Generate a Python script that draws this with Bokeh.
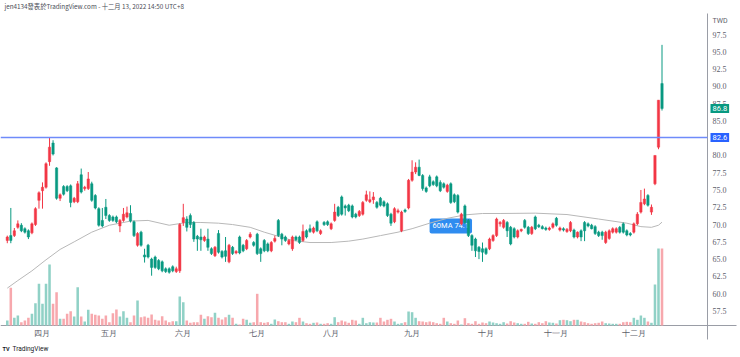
from bokeh.plotting import figure
from bokeh.models import Range1d, Label, LabelSet, ColumnDataSource
from bokeh.embed import file_html
from bokeh.resources import INLINE

# ---- data ----
month_ticks = [10, 29, 50, 71, 92, 115, 136, 156, 178]
month_labels = ["四月", "五月", "六月", "七月", "八月", "九月", "十月", "十一月", "十二月"]

price_ticks = [57.5, 60.0, 62.5, 65.0, 67.5, 70.0, 72.5, 75.0, 77.5, 80.0,
               85.0, 87.5, 90.0, 92.5, 95.0, 97.5]
price_tick_labels = ["57.5", "60.0", "62.5", "65.0", "67.5", "70.0", "72.5", "75.0", "77.5", "80.0",
                     "85.0", "87.5", "90.0", "92.5", "95.0", "97.5"]

opens = [67.7, 68.4, 68.4, 69.6, 69.9, 69.4, 69.1, 68.8, 70.0, 73.5,
         74.9, 75.4, 79.1, 81.8, 78.2, 73.8, 75.5, 75.5, 75.6, 73.3,
         73.3, 77.2, 75.2, 75.2, 75.9, 74.2, 72.3, 70.6, 72.5, 71.3,
         71.1, 71.1, 69.8, 70.6, 71.1, 71.6, 70.4, 67.0, 68.9, 65.6,
         67.0, 65.0, 65.3, 64.8, 64.6, 63.6, 63.6, 63.9, 63.2, 63.3,
         70.3, 70.8, 71.3, 70.3, 68.3, 68.2, 67.7, 67.9, 66.5, 65.5,
         68.7, 66.1, 66.2, 64.6, 66.7, 65.9, 68.2, 67.0, 66.5, 68.2,
         67.4, 68.6, 66.5, 67.7, 67.2, 66.2, 67.6, 70.6, 68.6, 68.2,
         67.2, 66.5, 68.2, 68.2, 67.7, 69.1, 69.4, 68.9, 70.4, 68.7,
         70.3, 70.4, 69.4, 70.6, 72.5, 74.0, 72.7, 72.8, 72.7, 71.5,
         71.3, 71.5, 73.5, 73.3, 73.6, 73.2, 73.8, 73.3, 73.0, 71.5,
         70.4, 71.8, 69.1, 72.1, 72.4, 76.4, 77.6, 78.3, 77.1, 75.3,
         76.9, 76.2, 76.9, 76.1, 75.9, 74.8, 75.9, 74.3, 74.2, 70.1,
         72.7, 70.6, 68.4, 67.9, 66.7, 66.5, 66.5, 66.5, 67.7, 68.4,
         70.1, 69.6, 70.3, 69.6, 69.4, 68.2, 69.1, 70.6, 69.6, 68.7,
         71.1, 69.9, 69.7, 69.5, 69.3, 69.6, 70.9, 69.2, 69.4, 69.0,
         69.1, 69.2, 68.2, 69.1, 70.3, 70.1, 69.9, 69.7, 68.9, 68.9,
         67.4, 68.0, 68.9, 68.9, 69.6, 70.1, 69.1, 68.7, 68.9, 70.1,
         71.8, 73.0, 74.2, 71.8, 75.9, 81.2, 90.4]

highs = [68.4, 72.4, 69.5, 70.6, 70.2, 69.6, 69.3, 70.3, 72.5, 74.8,
         76.1, 79.0, 82.6, 82.2, 78.3, 74.5, 75.7, 75.7, 75.8, 74.0,
         76.3, 78.1, 75.6, 77.6, 76.2, 74.4, 72.5, 72.4, 73.7, 71.5,
         71.3, 71.3, 70.8, 72.4, 72.6, 72.8, 70.6, 68.9, 69.1, 66.5,
         67.2, 65.2, 65.5, 65.0, 64.8, 63.8, 63.8, 64.1, 63.9, 70.2,
         73.0, 71.2, 71.6, 70.5, 68.5, 69.4, 68.4, 69.4, 66.7, 66.9,
         69.2, 66.3, 68.2, 67.2, 66.9, 66.3, 68.4, 67.2, 67.9, 68.9,
         67.6, 68.8, 66.7, 67.9, 67.4, 67.6, 68.4, 70.8, 68.8, 68.4,
         67.9, 68.4, 68.4, 68.4, 70.0, 69.3, 70.0, 69.7, 70.6, 69.3,
         70.5, 70.6, 70.3, 73.0, 72.7, 74.2, 72.9, 73.0, 72.9, 71.7,
         72.1, 73.4, 74.9, 74.8, 74.7, 73.4, 74.0, 73.5, 73.2, 71.7,
         72.5, 72.3, 72.0, 72.3, 76.6, 79.3, 79.0, 79.4, 77.3, 75.5,
         77.2, 76.4, 77.1, 76.4, 76.1, 75.9, 76.1, 74.5, 74.4, 71.7,
         72.9, 70.8, 68.6, 68.1, 66.9, 67.4, 66.7, 68.1, 68.6, 71.0,
         70.5, 70.8, 70.5, 69.8, 69.6, 69.3, 69.4, 70.8, 69.8, 69.8,
         71.3, 70.1, 69.9, 69.7, 69.7, 70.3, 71.1, 69.7, 69.6, 69.5,
         70.5, 69.4, 69.0, 69.3, 70.5, 70.3, 70.1, 69.9, 69.1, 69.1,
         69.1, 69.3, 69.6, 69.6, 69.8, 70.3, 69.3, 68.9, 70.3, 71.8,
         75.0, 75.2, 74.4, 72.9, 80.0, 88.0, 96.0]

lows = [67.3, 67.3, 68.2, 69.4, 68.9, 68.7, 67.9, 68.6, 69.8, 72.3,
        72.3, 75.2, 78.5, 80.0, 73.6, 73.4, 74.2, 74.7, 72.5, 73.1,
        73.1, 74.5, 74.9, 75.0, 73.3, 72.2, 69.7, 69.6, 70.8, 70.4,
        70.4, 70.2, 68.9, 70.4, 70.9, 70.3, 68.2, 66.8, 66.8, 64.5,
        65.1, 62.6, 63.6, 63.4, 63.1, 63.0, 62.9, 63.1, 63.0, 63.0,
        69.8, 69.0, 69.5, 67.5, 66.2, 66.2, 67.5, 66.2, 65.6, 65.3,
        65.8, 65.1, 64.6, 64.4, 65.6, 65.7, 65.7, 66.0, 66.3, 68.0,
        66.8, 65.6, 64.6, 66.0, 66.0, 66.0, 67.4, 68.2, 67.0, 67.5,
        67.0, 66.2, 67.6, 67.2, 67.5, 68.0, 68.8, 68.7, 68.9, 68.5,
        69.8, 69.8, 69.2, 70.4, 71.1, 71.3, 71.3, 71.8, 70.9, 70.9,
        71.1, 71.3, 73.3, 73.1, 73.0, 72.3, 72.6, 72.5, 71.1, 69.8,
        70.2, 71.6, 68.9, 71.7, 72.2, 76.2, 77.3, 77.0, 74.9, 74.6,
        75.4, 75.6, 75.4, 74.7, 75.2, 74.6, 73.0, 73.1, 71.6, 69.9,
        70.1, 68.2, 66.2, 65.3, 65.0, 64.6, 65.6, 66.3, 67.5, 68.2,
        69.7, 69.4, 68.2, 67.0, 68.0, 68.0, 68.9, 69.4, 68.5, 68.5,
        69.2, 69.5, 69.3, 69.1, 69.1, 69.4, 69.7, 69.0, 69.0, 68.8,
        68.9, 68.0, 68.0, 67.6, 67.6, 69.6, 69.3, 68.5, 68.2, 67.8,
        67.2, 67.8, 68.7, 68.7, 68.7, 68.7, 68.3, 68.3, 68.7, 69.9,
        71.6, 72.8, 72.6, 71.4, 75.7, 80.9, 86.5]

closes = [68.2, 67.7, 69.1, 70.1, 69.1, 68.9, 68.2, 70.1, 72.3, 74.6,
          75.4, 78.8, 81.2, 80.2, 73.8, 74.3, 74.4, 74.9, 73.2, 73.8,
          75.9, 74.7, 75.4, 76.6, 73.5, 72.4, 69.9, 69.8, 71.3, 70.6,
          70.6, 70.4, 70.6, 71.5, 71.7, 70.5, 68.4, 68.7, 67.0, 65.3,
          65.3, 63.8, 63.8, 63.6, 63.3, 63.2, 63.1, 63.3, 63.6, 70.0,
          71.0, 69.6, 70.0, 67.9, 67.9, 67.8, 68.2, 66.7, 65.8, 66.7,
          66.0, 65.3, 65.4, 67.0, 65.8, 66.1, 65.9, 66.2, 67.7, 68.6,
          67.0, 65.8, 65.8, 66.2, 66.2, 67.4, 68.0, 68.4, 67.9, 67.7,
          67.7, 68.2, 67.8, 67.4, 69.0, 68.2, 69.0, 69.5, 69.1, 69.1,
          70.0, 70.0, 70.1, 71.8, 71.3, 71.5, 72.4, 72.0, 71.1, 71.1,
          71.9, 73.2, 74.3, 73.6, 74.0, 72.5, 72.8, 72.7, 71.3, 70.2,
          72.3, 72.0, 71.8, 71.9, 76.4, 77.6, 78.3, 77.1, 75.2, 74.8,
          75.6, 75.8, 75.6, 74.9, 75.4, 75.7, 73.2, 73.3, 71.8, 71.5,
          70.3, 68.4, 67.0, 66.2, 66.1, 66.0, 65.8, 67.9, 68.4, 70.8,
          70.3, 70.6, 69.1, 67.2, 68.2, 69.1, 69.3, 69.6, 68.7, 69.6,
          69.4, 69.7, 69.4, 69.3, 69.5, 70.1, 69.9, 69.5, 69.2, 69.3,
          70.3, 68.2, 68.9, 68.2, 69.1, 69.8, 69.4, 68.7, 68.4, 68.4,
          68.9, 69.1, 69.4, 69.4, 68.9, 68.9, 68.5, 68.5, 70.1, 71.5,
          73.2, 73.7, 72.8, 72.5, 80.0, 88.0, 86.8]

volumes = [500, 3770, 770, 1000, 330, 500, 770, 1170, 2230, 4170,
           2170, 4170, 6100, 2170, 3330, 670, 670, 1170, 1430, 900,
           3830, 900, 400, 1570, 1170, 1070, 1000, 670, 1000, 330,
           1230, 1600, 900, 1430, 770, 330, 1000, 2500, 830, 900,
           770, 1100, 570, 500, 930, 500, 330, 430, 430, 2900,
           2330, 500, 270, 330, 330, 1070, 670, 930, 830, 1270,
           770, 600, 830, 1070, 770, 170, 100, 670, 570, 270,
           330, 3170, 330, 270, 330, 170, 600, 430, 330, 330,
           170, 400, 330, 770, 400, 230, 170, 270, 300, 170,
           170, 230, 170, 830, 330, 500, 400, 270, 570, 500,
           170, 770, 230, 330, 300, 300, 770, 400, 570, 670,
           400, 170, 230, 330, 1400, 1330, 770, 430, 400, 330,
           400, 330, 230, 170, 770, 400, 230, 170, 500, 100,
           730, 230, 170, 430, 170, 300, 230, 400, 300, 230,
           170, 330, 200, 430, 300, 230, 170, 170, 370, 200,
           170, 330, 230, 430, 300, 270, 200, 530, 570, 530,
           430, 570, 570, 400, 330, 230, 170, 230, 270, 400,
           230, 200, 170, 170, 170, 330, 370, 330, 770, 570,
           1000, 770, 400, 270, 4100, 7700, 7700]

ma_idx = [0, 3, 7, 11, 15, 19, 24, 29, 35, 40, 46, 51, 55, 60, 64, 69, 73, 77, 81,
          86, 92, 97, 101, 106, 111, 115, 120, 125, 130, 135, 140, 150, 159, 168,
          176, 180, 183, 185, 186]
ma_val = [60.8, 61.9, 63.3, 64.9, 66.4, 67.5, 68.9, 69.9, 70.5, 70.6, 69.9, 70.3,
          70.3, 70.2, 70.0, 69.6, 68.9, 68.3, 67.7, 67.4, 67.4, 67.6, 67.9, 68.4,
          68.9, 69.4, 70.2, 70.9, 71.4, 71.6, 71.6, 71.65, 71.45, 70.8, 70.2, 69.7,
          69.6, 69.9, 70.35]

hline_price = 82.6
last_price = 86.8
ma_tag = "60MA 74.1"
currency = "TWD"
header = "jen4134發表於TradingView.com - 十二月 13, 2022 14:50 UTC+8"
brand = "TradingView"

# ---- layout (canvas pixels -> data) ----
W, H = 740, 357
SX = 3.52          # px per bar
X0 = -1.93         # bar index at left edge
SY = 6.911         # px per price unit
Y_TOP = 102.42     # price at top edge
VPX = 100.0        # volume units per px
VOL_BASE_PX = 325  # canvas y of volume baseline


def px_x(px):
    return X0 + px / SX


def px_y(py):
    return Y_TOP - py / SY


UP = "#f23645"
DOWN = "#089981"
VOL_UP = "#90d1c6"
VOL_DOWN = "#f7a8ad"
AXIS_TXT = "#5d606b"
LINE_GRAY = "#9a9da6"

idx = list(range(len(closes)))
is_up = [c >= o for o, c in zip(opens, closes)]
candle_col = [UP if u else DOWN for u in is_up]
vol_col = [VOL_UP if u else VOL_DOWN for u in is_up]
body_top = [max(o, c) for o, c in zip(opens, closes)]
body_bot = [min(o, c) for o, c in zip(opens, closes)]

p = figure(width=W, height=H,
           x_range=Range1d(X0, px_x(W)), y_range=Range1d(px_y(H), Y_TOP),
           x_axis_location=None, y_axis_location=None,
           min_border_left=0, min_border_right=0, min_border_top=0, min_border_bottom=0,
           toolbar_location=None, output_backend="svg")
p.extra_y_ranges = {"vol": Range1d(-(H - VOL_BASE_PX) * VPX, VOL_BASE_PX * VPX)}
p.outline_line_color = None
p.background_fill_color = "white"
p.border_fill_color = "white"
p.xgrid.visible = False
p.ygrid.visible = False

# axis lines
AXIS_PX = 707
p.segment(x0=[px_x(AXIS_PX)], y0=[px_y(13)], x1=[px_x(AXIS_PX)], y1=[px_y(339)],
          line_color=LINE_GRAY, line_width=1)
p.segment(x0=[px_x(0)], y0=[px_y(VOL_BASE_PX)], x1=[px_x(736)], y1=[px_y(VOL_BASE_PX)],
          line_color=LINE_GRAY, line_width=1)

# volume
p.vbar(x=idx, width=0.72, top=volumes, bottom=0, y_range_name="vol",
       fill_color=vol_col, line_color=None)

# 60MA tag below the candles
p.add_layout(Label(x=126, y=69.8, text=ma_tag, text_align="center", text_baseline="middle",
                   text_font="Roboto", text_font_size="7.5px", text_color="white",
                   background_fill_color="#2f8cf0", padding=3, border_radius=2,
                   level="underlay"))

# MA line
p.line(ma_idx, ma_val, line_color="#b8b8b8", line_width=1)

# candles
p.segment(x0=idx, y0=lows, x1=idx, y1=highs, line_color=candle_col, line_width=1)
p.vbar(x=idx, width=0.66, top=body_top, bottom=body_bot,
       fill_color=candle_col, line_color=candle_col, line_width=0.5)

# horizontal line
p.segment(x0=[px_x(0)], y0=[hline_price], x1=[px_x(AXIS_PX)], y1=[hline_price],
          line_color="#6f8bfa", line_width=1.5)

# price axis labels
p.add_layout(LabelSet(x=px_x(712), y="y", text="text",
                      source=ColumnDataSource(dict(y=price_ticks, text=price_tick_labels)),
                      text_baseline="middle", text_font="Roboto", text_font_size="8px",
                      text_color=AXIS_TXT))
# month labels
p.add_layout(LabelSet(x="x", y=px_y(333), text="text",
                      source=ColumnDataSource(dict(x=month_ticks, text=month_labels)),
                      text_align="center", text_baseline="middle",
                      text_font="Noto Sans CJK TC", text_font_size="7.5px",
                      text_color=AXIS_TXT))

# price tags on the axis
p.add_layout(Label(x=px_x(710), y=last_price, text="%.1f" % last_price,
                   text_baseline="middle", text_font="Roboto", text_font_size="7.5px",
                   text_color="white", background_fill_color=DOWN, padding=2))
p.add_layout(Label(x=px_x(710), y=hline_price, text="%.1f" % hline_price,
                   text_baseline="middle", text_font="Roboto", text_font_size="7.5px",
                   text_color="white", background_fill_color="#2962ff", padding=2))

# texts around the chart
p.add_layout(Label(x=px_x(712), y=px_y(20), text=currency,
                   text_baseline="middle", text_font="Roboto", text_font_size="7px",
                   text_color=AXIS_TXT))
p.add_layout(Label(x=px_x(4), y=px_y(6), text=header,
                   text_baseline="middle", text_font="Noto Sans CJK TC", text_font_size="6.3px",
                   text_color="#4a4d57"))
p.add_layout(Label(x=px_x(2), y=px_y(348), text="TV",
                   text_baseline="middle", text_font="Roboto", text_font_style="bold",
                   text_font_size="5.5px", text_color="#131722"))
p.add_layout(Label(x=px_x(12), y=px_y(348), text=brand,
                   text_baseline="middle", text_font="Roboto", text_font_size="6.5px",
                   text_color="#131722"))

open("out.html", "w").write(file_html(p, INLINE))
